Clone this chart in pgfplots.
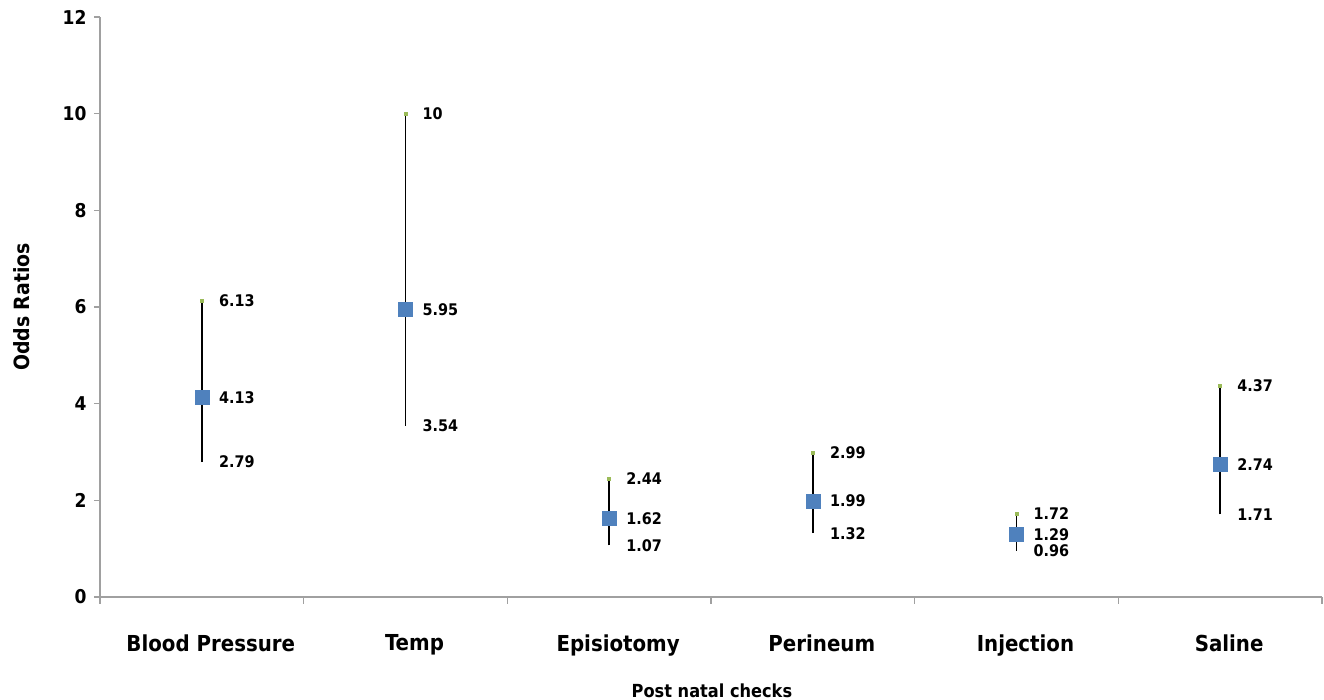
\documentclass[border=0pt]{standalone}
\usepackage{fontspec}
\setmainfont{DejaVu Sans Condensed}
\usepackage{pgfplots}
\pgfplotsset{compat=1.18}
\definecolor{axgray}{RGB}{160,160,160}
\definecolor{mblue}{RGB}{79,129,189}
\definecolor{mgreen}{RGB}{155,187,89}
\begin{document}
\begin{tikzpicture}
\useasboundingbox (-100pt,-103pt) rectangle (1224pt,597pt);
\begin{axis}[
  scale only axis, width=1222pt, height=580pt,
  xmin=-0.5, xmax=5.5, ymin=0, ymax=12,
  clip=false,
  axis x line=bottom, axis y line=left,
  axis line style={axgray, line width=1.3pt, -},
  tick align=outside,
  tick style={axgray, line width=1.3pt},
  xtick={0,...,5},
  xticklabels={Blood Pressure,Temp,Episiotomy,Perineum,Injection,Saline},
  major x tick style={draw=none},
  minor xtick={-0.5,0.5,...,5.5},
  minor tick length=7pt,
  major tick length=6pt,
  ytick={0,2,...,12},
  /pgf/number format/assume math mode=true,
  yticklabel style={font=\fontsize{19}{19}\selectfont\bfseries, xshift=-4pt},
  xticklabel style={font=\fontsize{22}{22}\selectfont\bfseries, yshift=-28pt, xshift=9pt},
  ylabel={Odds Ratios},
  ylabel style={font=\fontsize{21}{21}\selectfont\bfseries, at={(axis description cs:-0.064,0.5)}, anchor=center, rotate=0},
  xlabel={Post natal checks},
  xlabel style={font=\fontsize{18}{18}\selectfont\bfseries, at={(axis description cs:0.5008,-0.162)}, anchor=center},
  lbl/.style={nodes near coords, point meta=explicit symbolic,
    every node near coord/.style={anchor=west, xshift=17pt, inner sep=0pt,
      font=\fontsize{16}{16}\selectfont\bfseries, text=black}},
]
\addplot[black, line width=1.5pt, forget plot] coordinates {(0,2.79)(0,6.13)};
\addplot[black, line width=1.5pt, forget plot] coordinates {(1,3.54)(1,10)};
\addplot[black, line width=1.5pt, forget plot] coordinates {(2,1.07)(2,2.44)};
\addplot[black, line width=1.5pt, forget plot] coordinates {(3,1.32)(3,2.99)};
\addplot[black, line width=1.5pt, forget plot] coordinates {(4,0.96)(4,1.72)};
\addplot[black, line width=1.5pt, forget plot] coordinates {(5,1.71)(5,4.37)};
% high
\addplot[only marks, mark=square*, mark size=1.5pt, mgreen, lbl] coordinates {
  (0,6.13)[6.13] (1,10)[10] (2,2.44)[2.44] (3,2.99)[2.99] (4,1.72)[1.72] (5,4.37)[4.37]};
% odds ratio
\addplot[only marks, mark=square*, mark size=7pt, mblue, lbl] coordinates {
  (0,4.13)[4.13] (1,5.95)[5.95] (2,1.62)[1.62] (3,1.99)[1.99] (4,1.29)[1.29] (5,2.74)[2.74]};
% low
\addplot[draw=none, mark=none, lbl] coordinates {
  (0,2.79)[2.79] (1,3.54)[3.54] (2,1.07)[1.07] (3,1.32)[1.32] (4,0.96)[0.96] (5,1.71)[1.71]};
\end{axis}
\end{tikzpicture}
\end{document}
